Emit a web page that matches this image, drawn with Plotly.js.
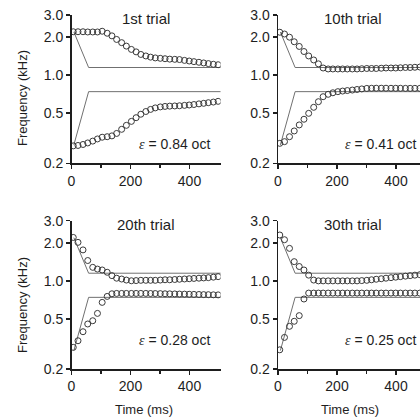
<!DOCTYPE html>
<html>
<head>
<meta charset="utf-8">
<script src="https://cdn.plot.ly/plotly-3.0.1.min.js"></script>
<style>html,body{margin:0;padding:0;background:#fff;}#chart{width:420px;height:418px;}</style>
</head>
<body>
<div id="chart"></div>
<script>
// Time of each sample (ms)
const timeMs = [6, 22, 39, 55, 72, 88, 104, 121, 137, 153, 170, 186, 203, 219, 235, 252, 268, 284, 301, 317, 333, 350, 366, 383, 399, 415, 432, 448, 464, 481, 497];

// 1st trial
const trial1Upper = [2.21, 2.21, 2.21, 2.20, 2.20, 2.20, 2.23, 2.15, 2.05, 1.92, 1.81, 1.70, 1.60, 1.53, 1.46, 1.42, 1.39, 1.37, 1.36, 1.35, 1.34, 1.335, 1.33, 1.31, 1.295, 1.28, 1.265, 1.25, 1.235, 1.22, 1.21];
const trial1Lower = [0.275, 0.277, 0.282, 0.290, 0.300, 0.312, 0.322, 0.325, 0.330, 0.345, 0.372, 0.400, 0.430, 0.460, 0.490, 0.515, 0.535, 0.550, 0.560, 0.565, 0.568, 0.570, 0.572, 0.576, 0.580, 0.585, 0.592, 0.598, 0.605, 0.612, 0.620];

// 10th trial
const trial10Upper = [2.19, 2.12, 2.00, 1.84, 1.69, 1.54, 1.42, 1.32, 1.23, 1.14, 1.12, 1.12, 1.12, 1.12, 1.12, 1.12, 1.12, 1.125, 1.13, 1.13, 1.13, 1.135, 1.14, 1.14, 1.14, 1.145, 1.15, 1.15, 1.155, 1.16, 1.16];
const trial10Lower = [0.288, 0.297, 0.325, 0.361, 0.403, 0.447, 0.498, 0.556, 0.616, 0.675, 0.705, 0.725, 0.740, 0.748, 0.755, 0.762, 0.770, 0.778, 0.785, 0.787, 0.788, 0.788, 0.788, 0.787, 0.787, 0.787, 0.786, 0.786, 0.786, 0.786, 0.786];

// 20th trial
const trial20Upper = [2.21, 2.02, 1.76, 1.45, 1.28, 1.24, 1.22, 1.17, 1.10, 1.05, 1.034, 1.015, 1.002, 1.005, 1.01, 1.01, 1.01, 1.01, 1.015, 1.02, 1.02, 1.025, 1.03, 1.035, 1.04, 1.045, 1.05, 1.055, 1.06, 1.07, 1.08];
const trial20Lower = [0.297, 0.335, 0.395, 0.455, 0.483, 0.552, 0.675, 0.753, 0.790, 0.795, 0.795, 0.795, 0.795, 0.795, 0.795, 0.795, 0.794, 0.793, 0.792, 0.790, 0.789, 0.788, 0.786, 0.785, 0.783, 0.781, 0.780, 0.778, 0.777, 0.775, 0.774];

// 30th trial
const trial30Upper = [2.31, 2.12, 1.81, 1.42, 1.30, 1.22, 1.11, 1.015, 1.0, 1.0, 1.0, 1.0, 1.0, 1.0, 1.0, 1.0, 1.0, 1.005, 1.01, 1.02, 1.03, 1.04, 1.05, 1.06, 1.07, 1.08, 1.09, 1.10, 1.11, 1.12, 1.13];
const trial30Lower = [0.284, 0.356, 0.436, 0.478, 0.530, 0.718, 0.800, 0.800, 0.800, 0.800, 0.800, 0.800, 0.800, 0.800, 0.800, 0.800, 0.800, 0.800, 0.800, 0.800, 0.800, 0.800, 0.800, 0.800, 0.800, 0.800, 0.800, 0.800, 0.800, 0.800, 0.800];

// Target trajectories (thin lines)
const targetT = [8, 58, 510];
const targetUpper = [2.2, 1.15, 1.15];
const targetLower = [0.28, 0.74, 0.74];

const panelTitles = ['1st trial', '10th trial', '20th trial', '30th trial'];
const epsilonValues = ['0.84', '0.41', '0.28', '0.25'];
const yTickVals = [0.2, 0.5, 1, 2, 3];
const yTickText = ['0.2', '0.5', '1.0', '2.0', '3.0'];
const xTickVals = [0, 200, 400];
const xTickText = ['0', '200', '400'];
const xMinorVals = [100, 300];

const panels = [
  {upper: trial1Upper, lower: trial1Lower},
  {upper: trial10Upper, lower: trial10Lower},
  {upper: trial20Upper, lower: trial20Lower},
  {upper: trial30Upper, lower: trial30Lower}
];

const W = 420, H = 418;
const FONT = 'Liberation Sans, Arial, sans-serif';
const INK = '#1e1e1e';
const px = x => x / W;
const py = y => 1 - y / H;

// pixel geometry
const colX = [[71.5, 220.5], [278, 420]];
const rowY = [[15, 163.3], [220.7, 369]];
const pxPerMs = 0.295;

const traces = [];
const layout = {
  width: W, height: H,
  margin: {l: 0, r: 0, t: 0, b: 0},
  paper_bgcolor: '#fff', plot_bgcolor: 'rgba(0,0,0,0)',
  showlegend: false,
  annotations: []
};

panels.forEach((p, i) => {
  const col = i % 2, row = Math.floor(i / 2);
  const n = i === 0 ? '' : String(i + 1);
  const xa = 'x' + n, ya = 'y' + n;
  const [x0, x1] = colX[col];
  const [y0, y1] = rowY[row];
  layout['xaxis' + n] = {
    domain: [px(x0), px(x1)], range: [0, (x1 - x0) / pxPerMs], anchor: ya,
    showgrid: false, zeroline: false, showline: true, linecolor: INK, linewidth: 1.5,
    ticks: 'outside', ticklen: 4, tickwidth: 1.5, tickcolor: INK,
    tickvals: xTickVals, ticktext: xTickText,
    tickfont: {family: FONT, size: 14, color: INK},
    minor: {tickvals: xMinorVals, ticks: 'outside', ticklen: 3, tickwidth: 1.5, tickcolor: INK, showgrid: false}
  };
  layout['yaxis' + n] = {
    domain: [py(y1), py(y0)], type: 'log', range: [Math.log10(0.2), Math.log10(3)], anchor: xa,
    showgrid: false, zeroline: false, showline: true, linecolor: INK, linewidth: 1.5,
    ticks: 'outside', ticklen: 4, tickwidth: 1.5, tickcolor: INK,
    tickvals: yTickVals, ticktext: yTickText,
    tickfont: {family: FONT, size: 14, color: INK}
  };
  [targetUpper, targetLower].forEach(tv => traces.push({
    x: targetT, y: tv, xaxis: xa, yaxis: ya, type: 'scatter', mode: 'lines',
    line: {color: '#707070', width: 1}, hoverinfo: 'skip'
  }));
  [p.upper, p.lower].forEach(vals => traces.push({
    x: timeMs, y: vals, xaxis: xa, yaxis: ya, type: 'scatter', mode: 'markers',
    marker: {symbol: 'circle-open', size: 6, color: '#3a3a3a', line: {width: 1, color: '#3a3a3a'}}
  }));
  // panel title
  layout.annotations.push({
    xref: 'paper', yref: 'paper', x: px(col === 0 ? 145.5 : 353), y: py(row === 0 ? 18 : 224),
    xanchor: 'center', yanchor: 'middle', showarrow: false,
    text: panelTitles[i], font: {family: FONT, size: 15, color: INK}
  });
  // epsilon label
  layout.annotations.push({
    xref: 'paper', yref: 'paper', x: px(col === 0 ? 212 : 418), y: py(row === 0 ? 144 : 339.5),
    xanchor: 'right', yanchor: 'middle', showarrow: false,
    text: "<span style=\"font-family:'Liberation Serif';font-style:italic\">ε</span> = " + epsilonValues[i] + ' oct',
    font: {family: FONT, size: 14, color: INK}
  });
});

// axis titles
[98, 305].forEach(yc => layout.annotations.push({
  xref: 'paper', yref: 'paper', x: px(22), y: py(yc), xanchor: 'center', yanchor: 'middle',
  textangle: -90, showarrow: false, text: 'Frequency (kHz)', font: {family: FONT, size: 13, color: INK}
}));
[143.5, 350].forEach(xc => layout.annotations.push({
  xref: 'paper', yref: 'paper', x: px(xc), y: py(409), xanchor: 'center', yanchor: 'middle',
  showarrow: false, text: 'Time (ms)', font: {family: FONT, size: 13, color: INK}
}));

Plotly.newPlot('chart', traces, layout, {staticPlot: true, displayModeBar: false});
</script>
</body>
</html>
